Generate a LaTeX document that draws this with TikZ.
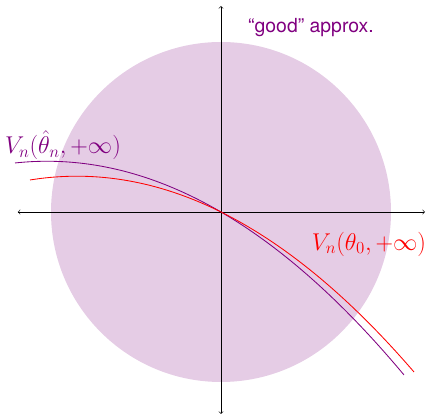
\documentclass[tikz,border=0pt]{standalone}
\usepackage{fontspec}
\setsansfont{TeX Gyre Heros}
\usetikzlibrary{positioning}
\usepackage{amsmath}

\begin{document}
\begin{tikzpicture}[
    every node/.style={font=\fontsize{17}{20}\selectfont},
    curve/.style={line width=0.6pt, samples=100}
  ]

%---------------------------------------
% Shared functions
%---------------------------------------
\pgfmathdeclarefunction{Vhat}{1}{\pgfmathparse{-0.5835*#1 - 0.0671*#1*#1}}  % estimated
\pgfmathdeclarefunction{Vnot}{1}{\pgfmathparse{-0.4966*#1 - 0.0689*#1*#1}}  % true

\def\R{4.25}

\useasboundingbox (-5.525,-5.1) rectangle (5.125,5.3);

% Neighbourhood of good approximation
\fill[violet!20] (0,0) circle (\R);
\node[violet, font=\sffamily\fontsize{13.8}{16}\selectfont] (good) at (2.25,4.6) {``good'' approx.};

% Axes
\coordinate (xl) at (-5.08,0);
\coordinate (xr) at (5.1,0);
\coordinate (yb) at (0,-5.05);
\coordinate (yt) at (0,5.15);
\draw[<->] (xl) -- (xr);
\draw[<->] (yb) -- (yt);

% Value functions
\draw[curve, violet, domain=-5.15:4.575] plot (\x,{Vhat(\x)});
\draw[curve, red, domain=-4.775:4.825] plot (\x,{Vnot(\x)});

\node[violet] (Vhat) at (-3.95,1.67) {$V_n(\hat{\theta}_n,+\infty)$};
\node[red] (Vnot) at (3.7,-0.8) {$V_n(\theta_0,+\infty)$};

\end{tikzpicture}
\end{document}
